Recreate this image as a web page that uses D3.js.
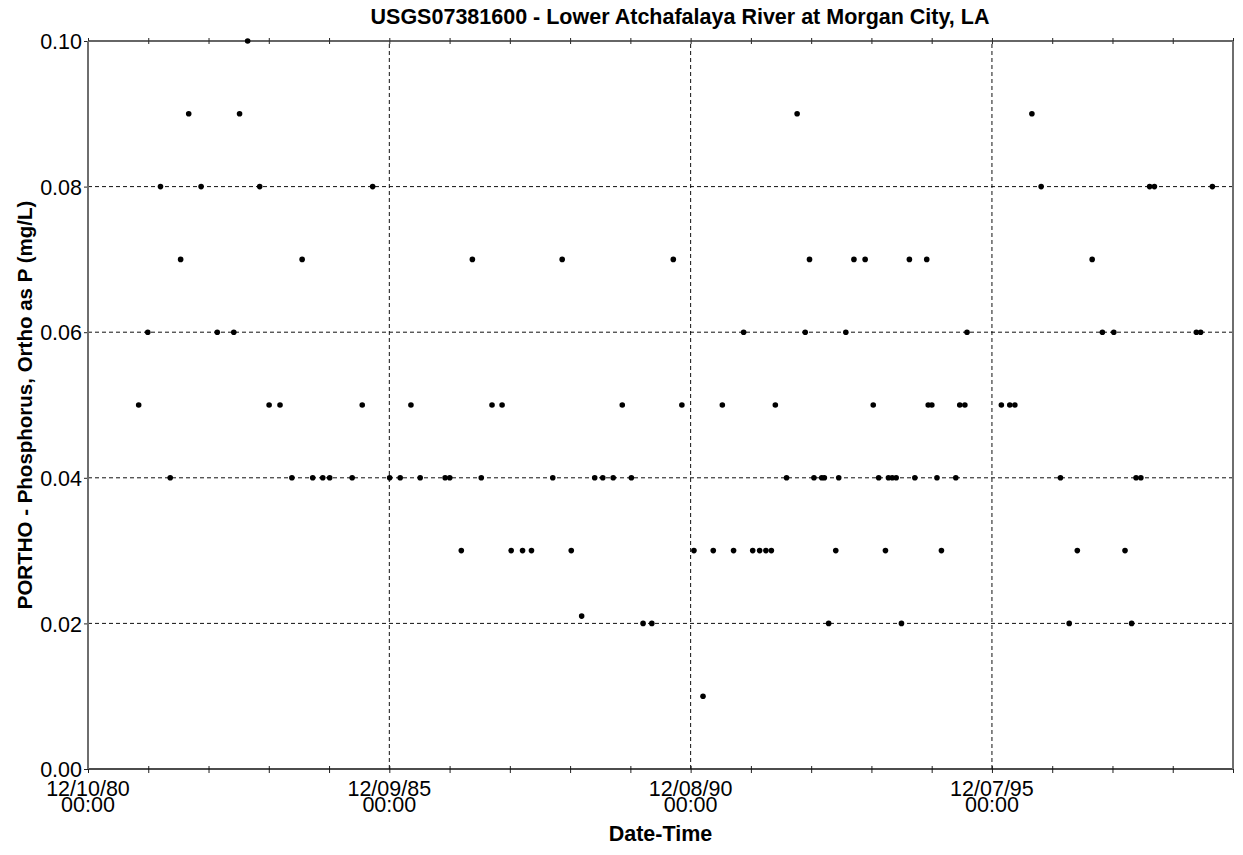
<!DOCTYPE html>
<html lang="en">
<head>
  <meta charset="UTF-8">
  <title>USGS07381600 - Lower Atchafalaya River at Morgan City, LA</title>
  <script src="https://d3js.org/d3.v7.min.js"></script>
  <style>
    body {
      margin: 0;
      background: #fff;
    }
    svg {
      display: block;
      font-family: Arial, "Liberation Sans", sans-serif;
    }
    .title, .axis-title {
      font-weight: bold;
      font-size: 21.5px;
      fill: #000;
    }
    .y-title {
      font-size: 20.5px;
    }
    .tick text, .date-label {
      font-size: 21.5px;
      fill: #000;
    }
    .grid line {
      stroke: #111;
      stroke-width: 1;
      stroke-dasharray: 4,3;
    }
  </style>
</head>
<body>
  <svg></svg>

  <script>
    const width = 1243;
    const height = 855;
    const margin = {top: 41, right: 10, bottom: 86, left: 88};

    // axis settings
    const xStart = "1980-12-10";
    const xEnd = "1999-12-06";
    const majorDates = ["1980-12-10", "1985-12-09", "1990-12-08", "1995-12-07"];
    const majorLabels = ["12/10/80", "12/09/85", "12/08/90", "12/07/95"];
    const yTicks = [0, 0.02, 0.04, 0.06, 0.08, 0.10];

    // sample dates and PORTHO values (mg/L)
    const sampleDates = [
      "1981-10-13", "1981-12-07", "1982-02-22", "1982-04-22", "1982-06-24", "1982-08-12",
      "1982-10-26", "1983-02-01", "1983-05-12", "1983-06-16", "1983-08-04", "1983-10-16",
      "1983-12-12", "1984-02-16", "1984-04-28", "1984-06-29", "1984-09-01", "1984-11-01",
      "1984-12-13", "1985-04-28", "1985-06-28", "1985-08-30",
      "1985-12-11", "1986-02-13", "1986-04-19", "1986-06-14", "1986-11-12", "1986-12-10",
      "1987-02-18", "1987-04-26", "1987-06-19", "1987-08-23", "1987-10-23", "1987-12-17",
      "1988-02-24", "1988-04-18", "1988-08-25", "1988-10-21", "1988-12-15", "1989-02-16",
      "1989-05-06", "1989-06-24", "1989-08-26", "1989-10-20", "1989-12-14", "1990-02-23",
      "1990-04-17", "1990-08-25", "1990-10-16",
      "1990-12-28", "1991-02-21", "1991-04-24", "1991-06-18", "1991-08-25", "1991-10-25",
      "1991-12-19", "1992-01-30", "1992-03-08", "1992-04-10", "1992-05-04", "1992-07-11",
      "1992-09-13", "1992-11-01", "1992-11-27", "1992-12-24", "1993-02-09", "1993-02-25",
      "1993-03-23", "1993-05-05", "1993-05-23", "1993-07-05", "1993-08-23", "1993-10-30",
      "1993-12-18", "1994-01-20", "1994-03-02", "1994-03-20", "1994-04-12", "1994-05-06",
      "1994-06-07", "1994-07-25", "1994-08-27", "1994-11-07", "1994-11-16", "1994-12-08",
      "1995-01-08", "1995-02-04", "1995-05-02", "1995-05-26", "1995-06-26", "1995-07-09",
      "1996-02-02", "1996-03-24", "1996-04-24", "1996-08-05", "1996-09-30", "1997-01-25",
      "1997-03-19", "1997-05-07", "1997-08-05", "1997-10-06", "1997-12-14", "1998-02-20",
      "1998-04-01", "1998-04-28", "1998-05-27", "1998-07-19", "1998-08-17", "1999-04-28",
      "1999-05-24", "1999-08-03"
    ];
    const orthoP = [
      0.05, 0.06, 0.08, 0.04, 0.07, 0.09,
      0.08, 0.06, 0.06, 0.09, 0.10, 0.08,
      0.05, 0.05, 0.04, 0.07, 0.04, 0.04,
      0.04, 0.04, 0.05, 0.08,
      0.04, 0.04, 0.05, 0.04, 0.04, 0.04,
      0.03, 0.07, 0.04, 0.05, 0.05, 0.03,
      0.03, 0.03, 0.04, 0.07, 0.03, 0.021,
      0.04, 0.04, 0.04, 0.05, 0.04, 0.02,
      0.02, 0.07, 0.05,
      0.03, 0.01, 0.03, 0.05, 0.03, 0.06,
      0.03, 0.03, 0.03, 0.03, 0.05, 0.04,
      0.09, 0.06, 0.07, 0.04, 0.04, 0.04,
      0.02, 0.03, 0.04, 0.06, 0.07, 0.07,
      0.05, 0.04, 0.03, 0.04, 0.04, 0.04,
      0.02, 0.07, 0.04, 0.07, 0.05, 0.05,
      0.04, 0.03, 0.04, 0.05, 0.05, 0.06,
      0.05, 0.05, 0.05, 0.09, 0.08, 0.04,
      0.02, 0.03, 0.07, 0.06, 0.06, 0.03,
      0.02, 0.04, 0.04, 0.08, 0.08, 0.06,
      0.06, 0.08
    ];

    const parseDate = d3.timeParse("%Y-%m-%d");
    const data = sampleDates.map((d, i) => ({date: parseDate(d), value: orthoP[i]}));

    const svg = d3.select("svg")
        .attr("width", width)
        .attr("height", height);

    const x = d3.scaleTime()
        .domain([parseDate(xStart), parseDate(xEnd)])
        .range([margin.left, width - margin.right]);

    const y = d3.scaleLinear()
        .domain([0, 0.10])
        .range([height - margin.bottom, margin.top]);

    // yearly minor ticks (365 day steps from the start)
    const minorTicks = d3.range(0, 20).map(i => d3.timeDay.offset(parseDate(xStart), 365 * i));
    const majors = majorDates.map(parseDate);

    // grid lines
    const grid = svg.append("g").attr("class", "grid");
    grid.selectAll(".hgrid")
        .data(yTicks.filter(v => v > 0 && v < 0.1))
        .enter().append("line")
        .attr("x1", x.range()[0])
        .attr("x2", x.range()[1])
        .attr("y1", d => y(d))
        .attr("y2", d => y(d));
    grid.selectAll(".vgrid")
        .data(majors.slice(1))
        .enter().append("line")
        .attr("x1", d => x(d))
        .attr("x2", d => x(d))
        .attr("y1", y.range()[0])
        .attr("y2", y.range()[1]);

    // top and bottom axes, ticks crossing the frame
    const xBottom = svg.append("g")
        .attr("transform", `translate(0,${y(0)})`)
        .call(d3.axisBottom(x).tickValues(minorTicks).tickFormat("").tickSize(4));
    xBottom.selectAll(".tick line").attr("y1", -3).attr("y2", 4).attr("stroke", "#222");
    xBottom.select(".domain").remove();

    const xTop = svg.append("g")
        .attr("transform", `translate(0,${y(0.10)})`)
        .call(d3.axisTop(x).tickValues(minorTicks).tickFormat("").tickSize(4));
    xTop.selectAll(".tick line").attr("y1", -3).attr("y2", 3).attr("stroke", "#222");
    xTop.select(".domain").remove();

    // left axis
    const yAxis = svg.append("g")
        .attr("transform", `translate(${margin.left},0)`)
        .call(d3.axisLeft(y).tickValues(yTicks).tickFormat(d3.format(".2f")).tickSize(4).tickPadding(2));
    yAxis.select(".domain").remove();
    yAxis.selectAll(".tick line").attr("stroke", "#222");
    yAxis.selectAll(".tick text")
        .attr("font-family", null)
        .attr("font-size", null)
        .attr("dy", "0.36em");

    // two-line date labels
    const dateLabels = svg.append("g");
    majors.forEach((d, i) => {
      const t = dateLabels.append("text")
          .attr("class", "date-label")
          .attr("text-anchor", "middle")
          .attr("x", x(d))
          .attr("y", y(0) + 27);
      t.append("tspan").attr("x", x(d)).text(majorLabels[i]);
      t.append("tspan").attr("x", x(d)).attr("dy", 15.5).text("00:00");
    });

    // frame
    const frame = svg.append("g");
    frame.append("line")
        .attr("x1", x.range()[0]).attr("x2", x.range()[1])
        .attr("y1", y(0.10)).attr("y2", y(0.10))
        .attr("stroke", "#333").attr("stroke-width", 1.5);
    frame.append("line")
        .attr("x1", x.range()[0]).attr("x2", x.range()[1])
        .attr("y1", y(0)).attr("y2", y(0))
        .attr("stroke", "#111").attr("stroke-width", 1.5);
    frame.append("line")
        .attr("x1", x.range()[0]).attr("x2", x.range()[0])
        .attr("y1", y(0)).attr("y2", y(0.10))
        .attr("stroke", "#6e6e6e").attr("stroke-width", 2);
    frame.append("line")
        .attr("x1", x.range()[1]).attr("x2", x.range()[1])
        .attr("y1", y(0)).attr("y2", y(0.10))
        .attr("stroke", "#6e6e6e").attr("stroke-width", 2);

    // points
    svg.append("g")
      .selectAll("circle")
      .data(data)
      .enter().append("circle")
        .attr("cx", d => x(d.date))
        .attr("cy", d => y(d.value))
        .attr("r", 2.8)
        .attr("fill", "#000");

    // titles
    svg.append("text")
        .attr("class", "title")
        .attr("x", 680)
        .attr("y", 24)
        .attr("text-anchor", "middle")
        .text("USGS07381600 - Lower Atchafalaya River at Morgan City, LA");

    svg.append("text")
        .attr("class", "axis-title")
        .attr("x", (x.range()[0] + x.range()[1]) / 2)
        .attr("y", 841)
        .attr("text-anchor", "middle")
        .text("Date-Time");

    svg.append("text")
        .attr("class", "axis-title y-title")
        .attr("transform", `translate(32,${(y(0) + y(0.10)) / 2}) rotate(-90)`)
        .attr("text-anchor", "middle")
        .text("PORTHO - Phosphorus, Ortho as P (mg/L)");
  </script>
</body>
</html>
